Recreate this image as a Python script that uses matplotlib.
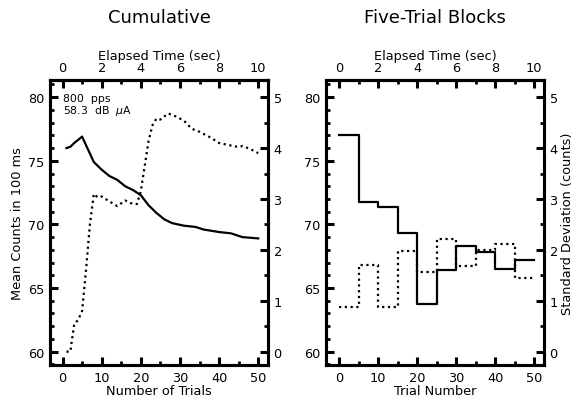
import numpy as np
import matplotlib
matplotlib.use("Agg")
import matplotlib.pyplot as plt
from matplotlib.ticker import MultipleLocator, FixedLocator

plt.rcParams['font.family'] = ['DejaVu Sans']

# Cumulative panel
cum_trials = [1, 2, 3, 5, 8, 10, 12, 14, 16, 18, 20, 22, 24, 26, 28, 31, 34, 36, 40, 43, 46, 50]
cum_mean = [76.0, 76.1, 76.4, 76.9, 74.9, 74.3, 73.8, 73.5, 73.0, 72.7, 72.3, 71.5, 70.9,
            70.4, 70.1, 69.9, 69.8, 69.6, 69.4, 69.3, 69.0, 68.9]
sd_trials = [1, 2, 3, 4, 5, 6, 7, 8, 9, 10, 12, 14, 16, 18, 19, 20, 21, 22, 23, 24, 25,
             27, 29, 31, 33, 35, 38, 40, 43, 45, 46, 48, 50]
cum_sd = [0.0, 0.0, 0.55, 0.62, 0.8, 1.6, 2.5, 3.1, 3.03, 3.05, 2.95, 2.86, 2.97, 2.9, 2.9,
          3.15, 3.65, 4.15, 4.45, 4.58, 4.56, 4.68, 4.62, 4.54, 4.38, 4.32, 4.2, 4.1, 4.05,
          4.02, 4.04, 3.98, 3.9]

# Five-trial blocks
block_edges = [0, 5, 10, 15, 20, 25, 30, 35, 40, 45, 50]
block_mean = [77.0, 71.8, 71.35, 69.3, 63.75, 66.4, 68.3, 67.8, 66.5, 67.2]
block_sd = [0.88, 1.71, 0.88, 1.97, 1.56, 2.22, 1.68, 1.99, 2.12, 1.45]

time_ticks = [0, 2, 4, 6, 8, 10]
time_minor = [1, 3, 5, 7, 9]

FS = 9.3


def style_axes(ax, ax2, top):
    for a in (ax, ax2, top):
        for s in a.spines.values():
            s.set_linewidth(2.2)
    ax.set_xlim(-3.2, 52.5)
    ax.set_ylim(58.95, 81.35)
    ax2.set_ylim(-0.2625, 5.3375)
    ax.xaxis.set_major_locator(MultipleLocator(10))
    ax.xaxis.set_minor_locator(MultipleLocator(5))
    ax.yaxis.set_major_locator(MultipleLocator(5))
    ax.yaxis.set_minor_locator(MultipleLocator(1))
    ax2.yaxis.set_major_locator(MultipleLocator(1))
    ax2.yaxis.set_minor_locator(MultipleLocator(0.5))
    top.xaxis.set_major_locator(FixedLocator(time_ticks))
    top.xaxis.set_minor_locator(FixedLocator(time_minor))
    for a in (ax, ax2, top):
        a.tick_params(which='major', direction='in', length=6, width=2.2, labelsize=FS, pad=4)
        a.tick_params(which='minor', direction='in', length=3, width=2.0)
    ax.tick_params(axis='x', which='both', top=False)
    top.set_xlabel('Elapsed Time (sec)', fontsize=FS, labelpad=2)


fig = plt.figure(figsize=(5.74, 4.02), dpi=100)

# Left panel: cumulative
axL = fig.add_axes([50 / 574, 36 / 402, 218 / 574, 285 / 402])
axL2 = axL.twinx()
topL = axL.secondary_xaxis('top', functions=(lambda x: x / 5, lambda t: t * 5))
axL.plot(cum_trials, cum_mean, color='black', lw=1.6)
axL2.plot(sd_trials, cum_sd, color='black', lw=1.6, ls=(0, (1, 1.6)))
style_axes(axL, axL2, topL)
axL.set_xlabel('Number of Trials', fontsize=FS, labelpad=0)
axL.set_ylabel('Mean Counts in 100 ms', fontsize=FS, labelpad=3)
axL.text(0.06, 0.955, '800  pps\n58.3  dB  $\\mu$A', transform=axL.transAxes,
         fontsize=7.8, va='top', ha='left', linespacing=1.05)
fig.text(159 / 574, 1 - 18 / 402, 'Cumulative', ha='center', va='center', fontsize=13)

# Right panel: five-trial blocks
axR = fig.add_axes([326 / 574, 36 / 402, 218 / 574, 285 / 402])
axR2 = axR.twinx()
topR = axR.secondary_xaxis('top', functions=(lambda x: x / 5, lambda t: t * 5))
axR.step(block_edges, block_mean + [block_mean[-1]], where='post', color='black', lw=1.6)
axR2.step(block_edges, block_sd + [block_sd[-1]], where='post', color='black', lw=1.6,
          ls=(0, (1, 1.6)))
style_axes(axR, axR2, topR)
axR.set_xlim(-3.4, 52.5)
axR.set_xlabel('Trial Number', fontsize=FS, labelpad=0)
axR2.set_ylabel('Standard Deviation (counts)', fontsize=FS, labelpad=2)
fig.text(435 / 574, 1 - 18 / 402, 'Five-Trial Blocks', ha='center', va='center', fontsize=13)

fig.savefig('out.png', dpi=100)
